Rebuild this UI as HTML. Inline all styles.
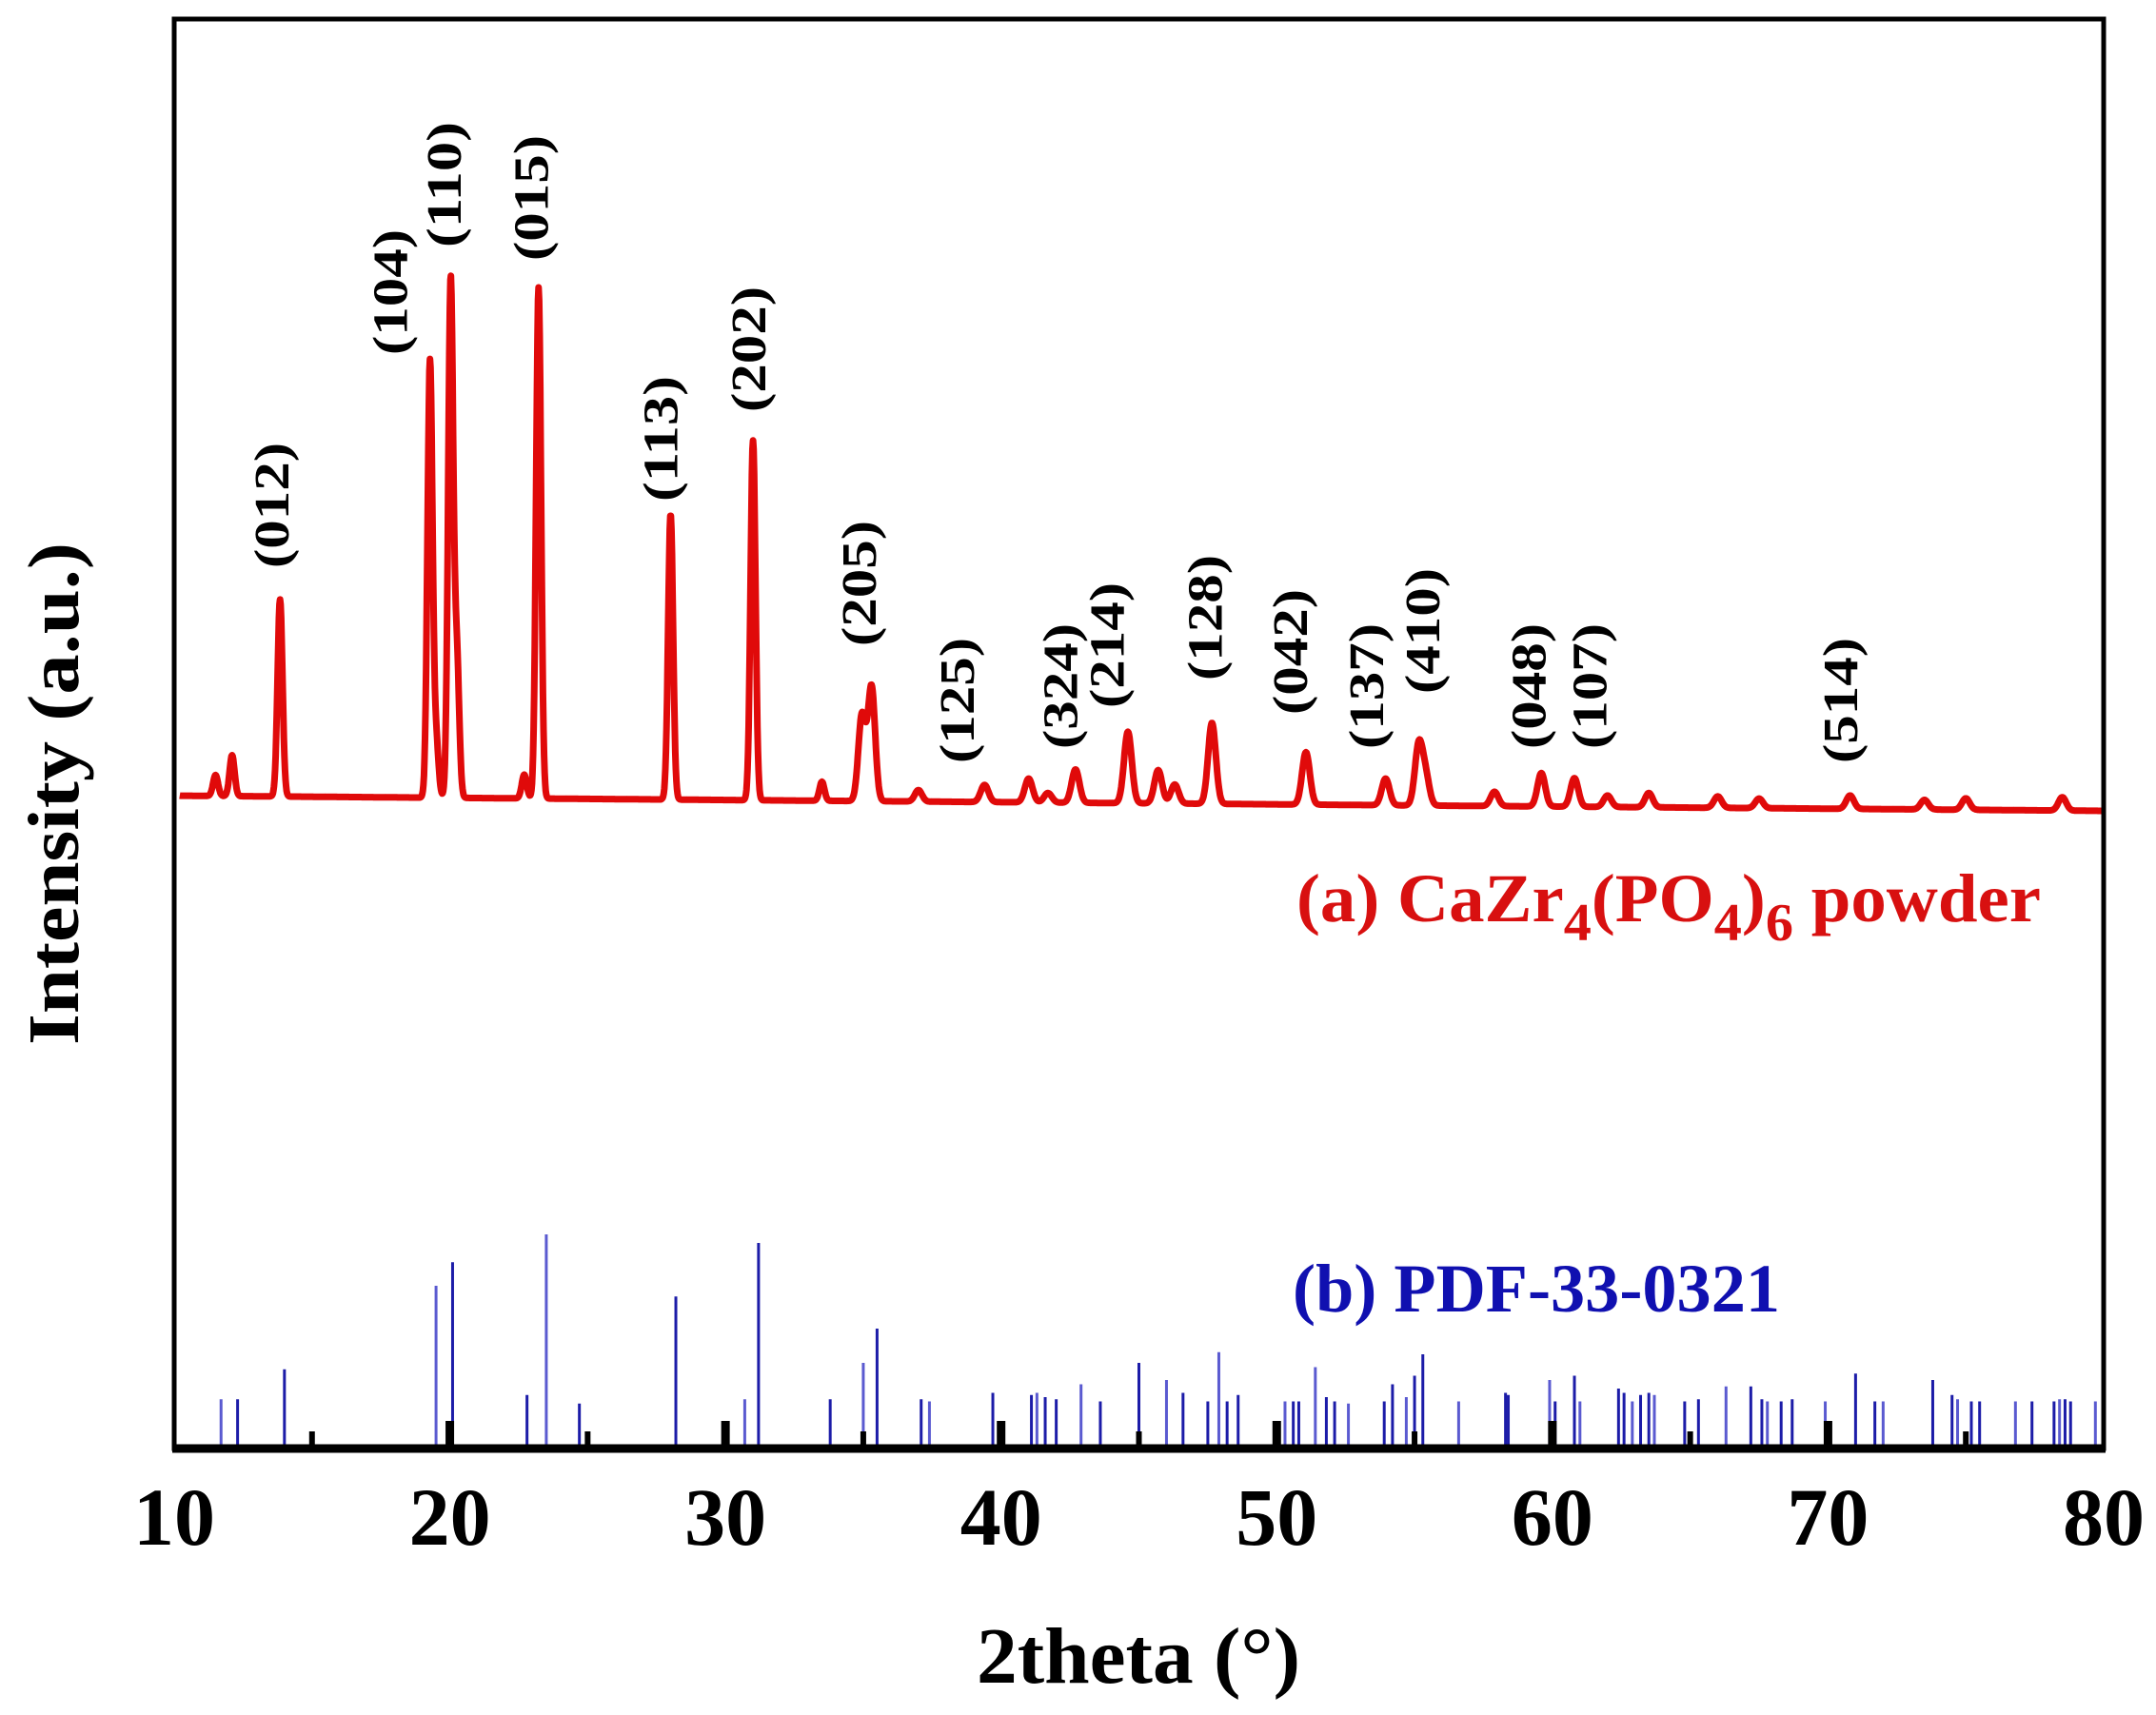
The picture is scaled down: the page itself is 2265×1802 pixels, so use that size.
<!DOCTYPE html>
<html><head><meta charset="utf-8"><style>html,body{margin:0;padding:0;background:#fff}svg{display:block}text{font-family:"Liberation Serif",serif;font-weight:bold}</style></head>
<body>
<svg id="chart" width="2265" height="1802" viewBox="0 0 2265 1802" xmlns="http://www.w3.org/2000/svg">
<g id="sticks"></g>
<path id="curve" fill="none" stroke="#e00a0a" stroke-width="7" stroke-linejoin="round"/>
<g id="hkl"></g>
<g id="ticks"></g>
<rect x="183" y="20" width="2027" height="1502" fill="none" stroke="#000" stroke-width="5"/>
<line x1="181" y1="1522" x2="2212" y2="1522" stroke="#000" stroke-width="9"/>
<g id="xlabels"></g>
<text x="1196" y="1768" font-size="84" text-anchor="middle" textLength="340" lengthAdjust="spacingAndGlyphs">2theta (°)</text>
<text transform="translate(82,834) rotate(-90)" font-size="76" text-anchor="middle" textLength="528" lengthAdjust="spacingAndGlyphs">Intensity (a.u.)</text>
<text x="1362" y="968" font-size="72" fill="#d81010" textLength="782" lengthAdjust="spacingAndGlyphs">(a) CaZr<tspan font-size="56" dy="20">4</tspan><tspan dy="-20">(PO</tspan><tspan font-size="56" dy="20">4</tspan><tspan dy="-20">)</tspan><tspan font-size="56" dy="20">6</tspan><tspan dy="-20"> powder</tspan></text>
<text x="1358" y="1378" font-size="72" fill="#1010b0" textLength="512" lengthAdjust="spacingAndGlyphs">(b) PDF-33-0321</text>
</svg>
<script>
const peakPos=[11.5,12.1,13.84,19.28,19.5,20.03,20.25,22.7,23.22,28.01,31.0,33.5,34.95,35.3,37.0,39.4,41.0,41.7,42.7,44.6,45.7,46.3,47.65,51.06,53.95,55.15,55.4,57.9,59.6,60.8,62.0,63.5,66.0,67.5,70.8,73.5,75.0,78.5];
const peakInt=[22,43,207,458,60,542,150,25,537,300,378,20,90,120,12,18,25,10,35,75,35,20,85,55,28,62,30,15,35,30,12,15,12,10,14,10,12,14];
const stickPos=[11.7,12.3,14.0,19.5,20.1,22.8,23.5,24.7,28.2,30.7,31.2,33.8,35.0,35.5,37.1,37.4,39.7,41.1,41.3,41.6,42.0,42.9,43.6,45.0,46.0,46.6,47.5,47.9,48.2,48.6,50.3,50.6,50.8,51.4,51.8,52.1,52.6,53.9,54.2,54.7,55.0,55.3,56.6,58.3,58.4,59.9,60.1,60.8,61.0,62.4,62.6,62.9,63.2,63.5,63.7,64.8,65.3,66.3,67.2,67.6,67.8,68.3,68.7,69.9,71.0,71.7,72.0,73.8,74.5,74.7,75.2,75.5,76.8,77.4,78.2,78.4,78.6,78.8,79.7];
const stickInt=[23,23,37,76,87,25,100,21,71,23,96,23,40,56,23,22,26,25,26,24,23,30,22,40,32,26,22,45,22,25,22,22,22,38,24,22,21,22,30,24,34,44,22,26,25,32,22,34,22,28,26,22,25,26,25,22,23,29,29,23,22,22,23,22,35,22,22,32,25,23,22,22,22,22,22,23,23,22,22];
const hklText=["(012)","(104)","(110)","(015)","(113)","(202)","(205)","(125)","(324)","(214)","(128)","(042)","(137)","(410)","(048)","(107)","(514)"];
const hklPos=[14.15,18.45,20.4,23.55,28.25,31.45,35.45,39.0,42.75,44.45,48.0,51.1,53.85,55.9,59.75,61.95,71.05];
const hklBase=[597,373,260,274,527,433,679,802,787,744,715,751,787,729,787,787,802];
const xTicks=[10,20,30,40,50,60,70,80];
const NS="http://www.w3.org/2000/svg";
const X=v=>183+(v-10)/70*2027;
const baseY=v=>836+(v-10)/70*16;
const stickY=p=>1522-p*2.25;
let d="";
for(let t=10.2;t<=79.95;t+=0.02){
  let I=0;
  for(let i=0;i<peakPos.length;i++){const s=peakPos[i]>38?0.14:(peakPos[i]>34?0.13:0.09);const z=(t-peakPos[i])/s;I+=peakInt[i]*Math.exp(-0.5*z*z);}
  d+=(d?"L":"M")+X(t).toFixed(1)+","+(baseY(t)-I).toFixed(1);
}
document.getElementById("curve").setAttribute("d",d);
const sg=document.getElementById("sticks");
stickPos.forEach((p,i)=>{const l=document.createElementNS(NS,"line");


l.setAttribute("x1",X(p));l.setAttribute("x2",X(p));l.setAttribute("y1",1522);l.setAttribute("y2",stickY(stickInt[i]));
l.setAttribute("stroke",i%3==0?"#5a5ad0":"#1c1ca8");l.setAttribute("stroke-width",3);sg.appendChild(l);});
const hg=document.getElementById("hkl");
hklText.forEach((s,i)=>{const t=document.createElementNS(NS,"text");


t.setAttribute("transform","translate("+X(hklPos[i])+","+hklBase[i]+") rotate(-90)");
t.setAttribute("font-size","52");t.setAttribute("textLength","132");t.setAttribute("lengthAdjust","spacingAndGlyphs");t.textContent=s;hg.appendChild(t);});
const tg=document.getElementById("ticks");
for(let v=15;v<80;v+=5){const l=document.createElementNS(NS,"line");


l.setAttribute("x1",X(v));l.setAttribute("x2",X(v));l.setAttribute("y1",1522);l.setAttribute("y2",v%10==0?1493:1504);
l.setAttribute("stroke","#000");l.setAttribute("stroke-width",v%10==0?9:6);tg.appendChild(l);}
const xg=document.getElementById("xlabels");
xTicks.forEach(v=>{const t=document.createElementNS(NS,"text");


t.setAttribute("x",X(v));t.setAttribute("y",1623);t.setAttribute("font-size","86");t.setAttribute("text-anchor","middle");t.textContent=v;xg.appendChild(t);});
</script>
</body></html>
